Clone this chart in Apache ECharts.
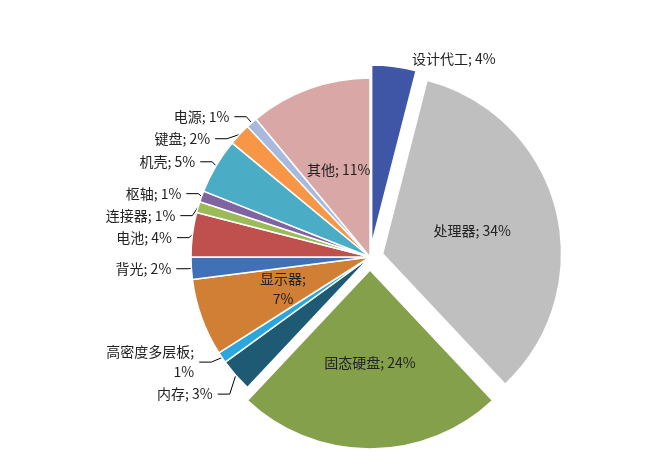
<!DOCTYPE html>
<html><head><meta charset="utf-8">
<script src="https://cdn.jsdelivr.net/npm/echarts@6/dist/echarts.min.js"></script>
<style>html,body{margin:0;background:#fff}#main{width:652px;height:464px}</style>
</head><body><div id="main"></div>
<script>
const names = ['设计代工','处理器','固态硬盘','内存','高密度多层板','显示器','背光','电池','连接器','枢轴','机壳','键盘','电源','其他'];
const values = [4,34,24,3,1,7,2,4,1,1,5,2,1,11];
const colors = ['#3F56A6','#BFBFBF','#84A04B','#1F5A74','#2AA7DF','#D07F35','#3F70B8','#C0504D','#9BBB59','#8064A2','#4BACC6','#F79646','#A7B9DE','#D9A7A6'];
const exploded = ['设计代工','处理器','固态硬盘'];
const inside = ['处理器','固态硬盘','显示器','其他'];

const data = names.map((n, i) => {
  const item = { name: n, value: values[i], itemStyle: { color: colors[i] }, selected: exploded.includes(n) };
  if (inside.includes(n)) {
    item.label = { position: 'inside', formatter: n === '显示器' ? '{b};\n{c}%' : '{b}; {c}%' };
  }
  if (n === '高密度多层板') item.label = { formatter: '{b};\n{c}%' };
  if (n === '设计代工') item.labelLine = { show: false };
  return item;
});

const chart = echarts.init(document.getElementById('main'));
chart.setOption({
  animation: false,
  series: [{
    type: 'pie',
    center: [370, 257],
    radius: 179,
    startAngle: 90,
    clockwise: true,
    selectedMode: 'multiple',
    selectedOffset: 13,
    itemStyle: { borderColor: '#fff', borderWidth: 1.5 },
    label: { formatter: '{b}; {c}%', color: '#222', fontSize: 14, fontFamily: 'Noto Sans CJK SC', lineHeight: 20 },
    labelLine: { show: true, length: 8, length2: 12, lineStyle: { color: '#000', width: 1 } },
    emphasis: { disabled: true },
    data
  }]
});
</script></body></html>
